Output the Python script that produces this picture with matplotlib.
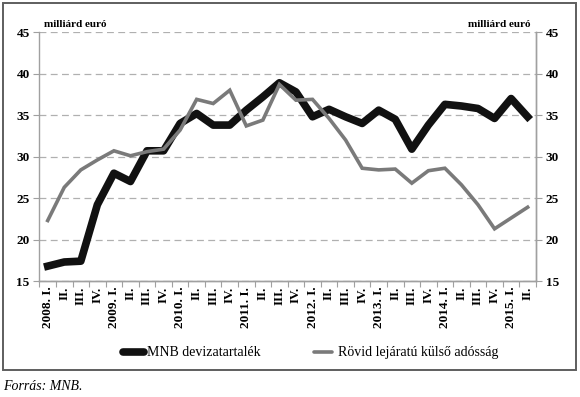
import matplotlib
matplotlib.use("Agg")
import matplotlib.pyplot as plt
from matplotlib.patches import Rectangle

# Quarterly data, 2008 Q1 - 2015 Q2 (billion EUR)
quarters = ["2008. I.", "II.", "III.", "IV.",
            "2009. I.", "II.", "III.", "IV.",
            "2010. I.", "II.", "III.", "IV.",
            "2011. I.", "II.", "III.", "IV.",
            "2012. I.", "II.", "III.", "IV.",
            "2013. I.", "II.", "III.", "IV.",
            "2014. I.", "II.", "III.", "IV.",
            "2015. I.", "II."]

mnb_reserves = [16.8, 17.3, 17.4, 24.2, 28.0, 27.0, 30.7, 30.7,
                34.0, 35.2, 33.8, 33.8, 35.6, 37.2, 38.9, 37.8,
                34.8, 35.7, 34.8, 34.0, 35.6, 34.5, 30.9, 33.8,
                36.3, 36.1, 35.8, 34.6, 37.0, 34.8]

short_term_debt = [22.3, 26.3, 28.4, 29.6, 30.7, 30.1, 30.6, 30.9,
                   33.2, 36.9, 36.4, 38.0, 33.7, 34.4, 38.7, 36.8,
                   36.9, 34.6, 32.0, 28.6, 28.4, 28.5, 26.8, 28.3,
                   28.6, 26.6, 24.2, 21.3, 22.6, 23.9]

series_names = ["MNB devizatartalék", "Rövid lejáratú külső adósság"]
y_ticks = [15, 20, 25, 30, 35, 40, 45]

serif = ["Liberation Serif", "DejaVu Serif"]
plt.rcParams["font.family"] = serif

fig = plt.figure(figsize=(5.8, 3.97), dpi=100)
ax = fig.add_axes([0.068, 0.292, 0.856, 0.627])

x = list(range(len(quarters)))
ax.plot(x, short_term_debt, color="#7a7a7a", lw=2.6, solid_joinstyle="miter", zorder=3)
ax.plot(x, mnb_reserves, color="#111111", lw=5.5, solid_joinstyle="round", zorder=2)

ax.set_xlim(-0.5, len(quarters) - 0.5)
ax.set_ylim(15, 45)
ax.set_yticks(y_ticks)
ax.yaxis.grid(True, color="#b0b0b0", ls=(0, (5.5, 3.5)), lw=0.9)
ax.set_axisbelow(True)

# right axis mirrors the left
ax2 = ax.twinx()
ax2.set_ylim(15, 45)
ax2.set_yticks(y_ticks)

for a in (ax, ax2):
    for s in a.spines.values():
        s.set_color("#a0a0a0")
        s.set_linewidth(1.0)
    a.spines["top"].set_visible(False)
    a.tick_params(axis="y", length=4, color="#a0a0a0", labelsize=9.5, pad=3)
    for t in a.get_yticklabels():
        t.set_fontweight("bold")
ax2.spines["left"].set_visible(False)

# x ticks at quarter boundaries, labels centred on the quarter
ax.set_xticks([i - 0.5 for i in range(len(quarters) + 1)])
ax.set_xticklabels([])
ax.set_xticks(x, minor=True)
ax.set_xticklabels(quarters, minor=True, rotation=90, fontsize=9.5, fontweight="bold")
ax.tick_params(axis="x", which="major", length=4, color="#a0a0a0")
ax.tick_params(axis="x", which="minor", length=0, pad=4)

fig.text(0.076, 0.928, "milliárd euró", fontsize=8, fontweight="bold", ha="left", va="bottom")
fig.text(0.914, 0.928, "milliárd euró", fontsize=8, fontweight="bold", ha="right", va="bottom")

# legend drawn manually to sit on one row
fig.add_artist(plt.Line2D([0.212, 0.248], [0.113, 0.113], color="#111111", lw=5.5,
                          solid_capstyle="round"))
fig.text(0.254, 0.113, series_names[0], fontsize=10, va="center", ha="left")
fig.add_artist(plt.Line2D([0.541, 0.572], [0.113, 0.113], color="#7a7a7a", lw=2.6,
                          solid_capstyle="round"))
fig.text(0.583, 0.113, series_names[1], fontsize=10, va="center", ha="left")

# outer frame
fig.add_artist(Rectangle((0.005, 0.068), 0.988, 0.924, transform=fig.transFigure,
                         fill=False, ec="#5e5e5e", lw=1.4))

fig.text(0.005, 0.027, "Forrás: MNB.", fontsize=10, style="italic", va="center", ha="left")

fig.savefig("out.png", dpi=100)
